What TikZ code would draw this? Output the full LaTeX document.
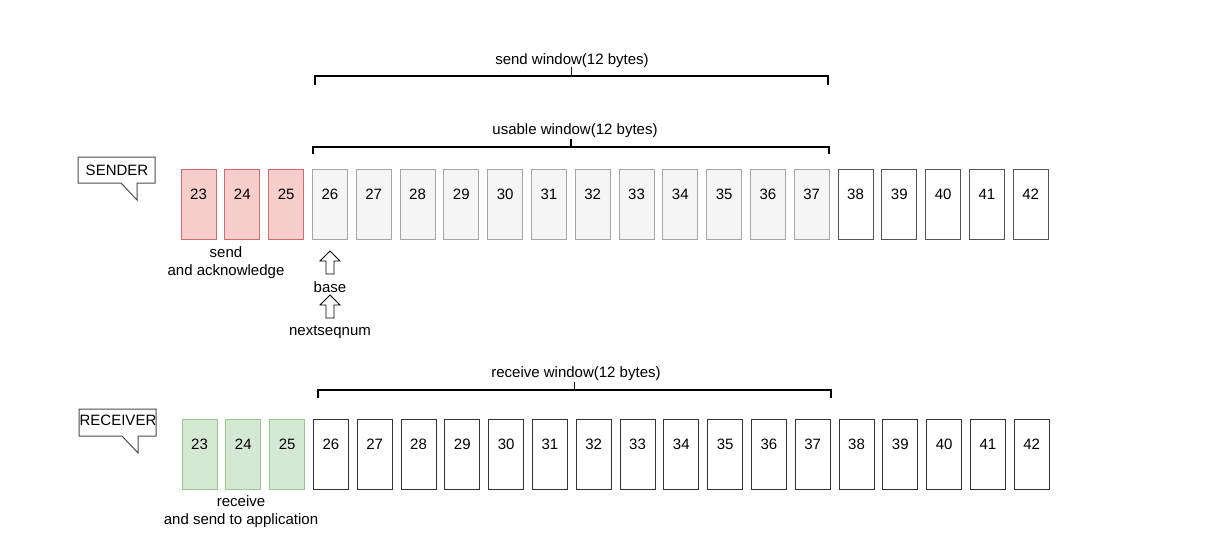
\documentclass[tikz,border=0pt]{standalone}
\usepackage{fontspec}
\setmainfont{Liberation Sans}
\usetikzlibrary{positioning,calc}

\definecolor{pinkfill}{HTML}{F8CECC}
\definecolor{pinkline}{HTML}{CC6E6E}
\definecolor{greenfill}{HTML}{D5E8D4}
\definecolor{greenline}{HTML}{97C98A}
\definecolor{grayfill}{HTML}{F5F5F5}
\definecolor{grayline}{HTML}{A6A6A6}
\definecolor{cellline}{HTML}{555555}

\begin{document}
\begin{tikzpicture}[
  x=1pt, y=-1pt,
  font=\fontsize{15}{18.5}\selectfont,
  cell/.style={draw=cellline, fill=white, line width=1pt,
               minimum width=35pt, minimum height=70pt, inner sep=0pt,
               text height=10.7pt, text depth=20pt},
  sentcell/.style={cell, draw=pinkline, fill=pinkfill},
  wincell/.style={cell, draw=grayline, fill=grayfill},
  recvcell/.style={cell, draw=greenline, fill=greenfill},
  lbl/.style={align=center, inner sep=0pt},
  bracket/.style={line width=1.3pt, black},
  callout/.style={draw=black!70, line width=1pt, fill=white},
  uparrow/.pic={
    \draw[black, line width=0.9pt, fill=white]
      (-4,11) -- (-4,-2) -- (-10,-2) -- (0,-12) -- (10,-2) -- (4,-2) -- (4,11) -- cycle;
  }
]
\useasboundingbox (0,0) rectangle (1220,557);

% ---- sender buffer ----
\foreach \n [count=\i from 0] in {23,...,42}{
  \ifnum\n<26
    \node[sentcell] (s\n) at (198.5+\i*43.8,204) {\n};
  \else\ifnum\n<38
    \node[wincell] (s\n) at (198.5+\i*43.8,204) {\n};
  \else
    \node[cell] (s\n) at (198.5+\i*43.8,204) {\n};
  \fi\fi
}

% ---- receiver buffer ----
\foreach \n [count=\i from 0] in {23,...,42}{
  \ifnum\n<26
    \node[recvcell] (r\n) at (199.5+\i*43.8,454) {\n};
  \else
    \node[cell, draw=black!80] (r\n) at (199.5+\i*43.8,454) {\n};
  \fi
}

% ---- callouts ----
\draw[callout] (78,157) -- (155,157) -- (155,183) -- (137,183) -- (137,200)
  -- (121,183) -- (78,183) -- cycle;
\node[lbl] (sender) at (117,170) {SENDER};
\draw[callout] (79,409) -- (156,409) -- (156,436) -- (138,436) -- (138,453)
  -- (122,436) -- (79,436) -- cycle;
\node[lbl] (receiver) at (118,420) {RECEIVER};

% ---- window brackets ----
\coordinate (sendl) at (315,76);
\coordinate (sendr) at (828,76);
\draw[bracket] ([yshift=-9pt]sendl) -- (sendl) -- (sendr) -- ([yshift=-9pt]sendr);
\draw[bracket] ($(sendl)!0.5!(sendr)$) -- ++(0,-9);
\node[lbl] (sendwin) at (572,61) {send window(12 bytes)};

\coordinate (usel) at (313,147);
\coordinate (user) at (829,147);
\draw[bracket] ([yshift=-7pt]usel) -- (usel) -- (user) -- ([yshift=-7pt]user);
\draw[bracket] ($(usel)!0.5!(user)$) -- ++(0,-8);
\node[lbl] (usewin) at (575,131) {usable window(12 bytes)};

\coordinate (recvl) at (318,390);
\coordinate (recvr) at (831,390);
\draw[bracket] ([yshift=-8pt]recvl) -- (recvl) -- (recvr) -- ([yshift=-8pt]recvr);
\draw[bracket] ($(recvl)!0.5!(recvr)$) -- ++(0,-8);
\node[lbl] (recvwin) at (576,374) {receive window(12 bytes)};

% ---- pointers ----
\pic (basearr) at (330,263) {uparrow};
\node[lbl] (base) at (330,287) {base};
\pic (nextarr) at (330,307) {uparrow};
\node[lbl] (nextseq) at (330,332) {nextseqnum};

% ---- captions ----
\node[lbl] (sentack) at (226,262.5) {send\\and acknowledge};
\node[lbl] (recvapp) at (241,511.5) {receive\\and send to application};
\end{tikzpicture}
\end{document}
